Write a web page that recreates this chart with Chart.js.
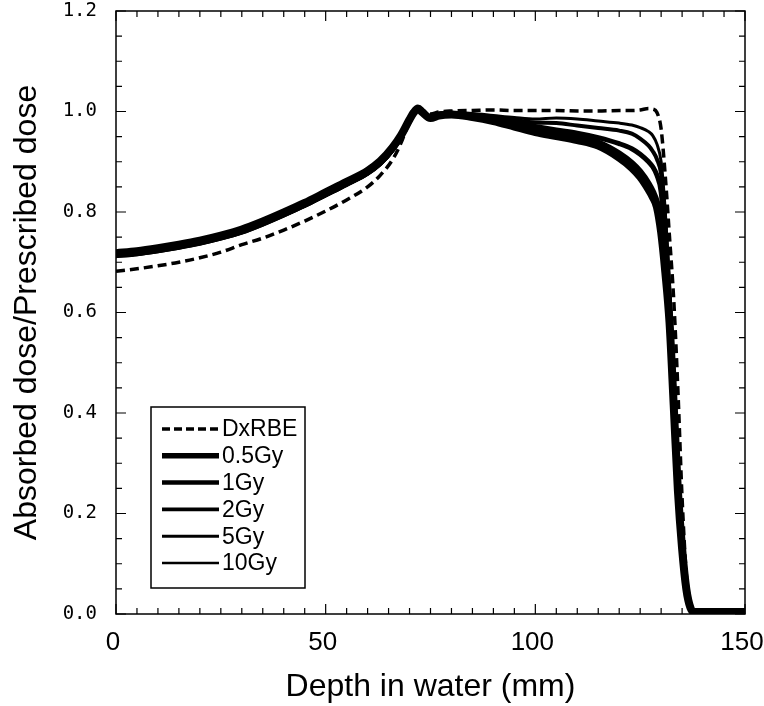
<!DOCTYPE html>
<html>
<head>
<meta charset="utf-8">
<script src="https://cdn.jsdelivr.net/npm/chart.js@4"></script>
<style>
  html, body { margin: 0; padding: 0; background: #fff; }
  #wrap { width: 764px; height: 706px; }
</style>
</head>
<body>
<div id="wrap"><canvas id="chart" width="764" height="706"></canvas></div>
<script>
// depth in water (mm)
const depth = [0, 5, 10, 15, 20, 25, 30, 35, 40, 45,
  50, 55, 60, 63, 66, 68, 70, 71, 72, 73,
  75, 77, 80, 85, 90, 95, 100, 105, 110, 115,
  120, 123, 125, 127, 128, 129, 130, 131, 132, 133,
  134, 135, 136, 137, 138, 140, 145, 150];

const seriesLabels = ["DxRBE", "0.5Gy", "1Gy", "2Gy", "5Gy", "10Gy"];

const doseRBE = [0.682, 0.687, 0.693, 0.700, 0.709, 0.720, 0.735, 0.748, 0.764, 0.782,
  0.802, 0.824, 0.850, 0.873, 0.905, 0.938, 0.982, 1.000, 1.009, 1.002,
  0.995, 0.999, 1.001, 1.002, 1.003, 1.002, 1.002, 1.002, 1.001, 1.001,
  1.002, 1.002, 1.003, 1.006, 1.005, 0.998, 0.965, 0.870, 0.750, 0.626,
  0.445, 0.230, 0.080, 0.015, 0.004, 0.004, 0.004, 0.004];

const dose05 = [0.718, 0.722, 0.728, 0.735, 0.743, 0.753, 0.765, 0.781, 0.799, 0.818,
  0.839, 0.860, 0.882, 0.901, 0.929, 0.953, 0.984, 0.998, 1.006, 0.999,
  0.987, 0.992, 0.994, 0.989, 0.981, 0.970, 0.959, 0.951, 0.943, 0.932,
  0.908, 0.888, 0.870, 0.845, 0.830, 0.810, 0.760, 0.680, 0.580, 0.415,
  0.245, 0.130, 0.050, 0.012, 0.004, 0.004, 0.004, 0.004];

const dose1 = [0.716, 0.720, 0.726, 0.733, 0.741, 0.751, 0.763, 0.779, 0.797, 0.816,
  0.837, 0.858, 0.880, 0.899, 0.927, 0.952, 0.983, 0.998, 1.006, 0.999,
  0.988, 0.993, 0.995, 0.990, 0.983, 0.973, 0.963, 0.956, 0.949, 0.938,
  0.916, 0.897, 0.880, 0.856, 0.840, 0.818, 0.768, 0.688, 0.585, 0.420,
  0.248, 0.132, 0.051, 0.012, 0.004, 0.004, 0.004, 0.004];

const dose2 = [0.714, 0.718, 0.724, 0.731, 0.739, 0.749, 0.761, 0.777, 0.795, 0.814,
  0.835, 0.856, 0.878, 0.897, 0.925, 0.951, 0.982, 0.998, 1.006, 0.999,
  0.989, 0.994, 0.996, 0.992, 0.986, 0.978, 0.970, 0.963, 0.957, 0.948,
  0.936, 0.926, 0.915, 0.900, 0.890, 0.873, 0.840, 0.740, 0.615, 0.440,
  0.255, 0.135, 0.052, 0.012, 0.004, 0.004, 0.004, 0.004];

const dose5 = [0.712, 0.716, 0.722, 0.729, 0.737, 0.747, 0.759, 0.775, 0.793, 0.812,
  0.833, 0.854, 0.876, 0.895, 0.923, 0.950, 0.981, 0.997, 1.006, 0.999,
  0.990, 0.995, 0.997, 0.994, 0.989, 0.983, 0.978, 0.977, 0.972, 0.967,
  0.962, 0.956, 0.946, 0.932, 0.921, 0.905, 0.875, 0.780, 0.640, 0.455,
  0.262, 0.138, 0.053, 0.012, 0.004, 0.004, 0.004, 0.004];

const dose10 = [0.711, 0.715, 0.721, 0.728, 0.736, 0.746, 0.758, 0.774, 0.792, 0.811,
  0.832, 0.853, 0.875, 0.894, 0.922, 0.949, 0.981, 0.997, 1.006, 0.999,
  0.991, 0.996, 0.998, 0.996, 0.992, 0.988, 0.985, 0.987, 0.985, 0.981,
  0.977, 0.973, 0.968, 0.960, 0.952, 0.935, 0.900, 0.800, 0.655, 0.465,
  0.268, 0.140, 0.054, 0.012, 0.004, 0.004, 0.004, 0.004];

const xTicks = [0, 50, 100, 150];
const yTicks = [0.0, 0.2, 0.4, 0.6, 0.8, 1.0, 1.2];

const allSeries = [doseRBE, dose05, dose1, dose2, dose5, dose10];
const widths = [3.5, 8, 6.5, 5, 4, 3];
const legendWidths = [3.5, 5.5, 4.5, 3.6, 3, 2.4];

function toPoints(values) {
  return depth.map((d, i) => ({ x: d, y: values[i] }));
}

// ticks pointing inward on all four sides + frame
const frameTicks = {
  id: "frameTicks",
  afterDraw(chart) {
    const ctx = chart.ctx;
    const area = chart.chartArea;
    const xs = chart.scales.x;
    const ys = chart.scales.y;
    ctx.save();
    ctx.strokeStyle = "#000";
    ctx.lineWidth = 1.5;
    ctx.strokeRect(area.left, area.top, area.right - area.left, area.bottom - area.top);
    ctx.lineWidth = 1.2;
    ctx.beginPath();
    for (let v = 0; v <= 150; v += 5) {
      const px = xs.getPixelForValue(v);
      const len = v % 50 === 0 ? 10 : 6;
      ctx.moveTo(px, area.bottom);
      ctx.lineTo(px, area.bottom - len);
      ctx.moveTo(px, area.top);
      ctx.lineTo(px, area.top + len);
    }
    for (let k = 0; k <= 24; k++) {
      const py = ys.getPixelForValue(k * 0.05);
      const len = k % 4 === 0 ? 10 : 6;
      ctx.moveTo(area.left, py);
      ctx.lineTo(area.left + len, py);
      ctx.moveTo(area.right, py);
      ctx.lineTo(area.right - len, py);
    }
    ctx.stroke();
    ctx.restore();
  }
};

// boxed legend inside the plot
const boxLegend = {
  id: "boxLegend",
  afterDraw(chart) {
    const ctx = chart.ctx;
    ctx.save();
    ctx.strokeStyle = "#000";
    ctx.lineWidth = 1.5;
    ctx.strokeRect(151, 407, 154, 181);
    ctx.font = "23px 'Liberation Sans Narrow', 'Liberation Sans', sans-serif";
    ctx.fillStyle = "#000";
    ctx.textBaseline = "middle";
    seriesLabels.forEach((label, i) => {
      const y = 429 + i * 26.8;
      ctx.beginPath();
      ctx.lineWidth = legendWidths[i];
      ctx.setLineDash(i === 0 ? [8, 4] : []);
      ctx.moveTo(162, y);
      ctx.lineTo(219, y);
      ctx.stroke();
      ctx.setLineDash([]);
      ctx.fillText(label, 222, y + 1);
    });
    ctx.restore();
  }
};

window.addEventListener("load", () => {
  new Chart(document.querySelector("#chart"), {
    type: "line",
    data: {
      datasets: allSeries.map((vals, i) => ({
        label: seriesLabels[i],
        data: toPoints(vals),
        borderColor: "#000",
        borderWidth: widths[i],
        borderDash: i === 0 ? [9, 5] : [],
        pointRadius: 0,
        cubicInterpolationMode: "monotone",
        fill: false,
        order: i === 0 ? 0 : 7 - i
      }))
    },
    options: {
      responsive: false,
      animation: false,
      layout: { padding: { top: 11, right: 19, left: 0, bottom: 0 } },
      plugins: { legend: { display: false }, tooltip: { enabled: false } },
      scales: {
        x: {
          type: "linear",
          min: 0,
          max: 150,
          afterFit(scale) {
            scale.height = 92;
            scale.paddingLeft = 0;
            scale.paddingRight = 0;
          },
          afterBuildTicks(scale) { scale.ticks = xTicks.map(v => ({ value: v })); },
          grid: { display: false },
          border: { display: false },
          ticks: {
            padding: 5,
            labelOffset: -3,
            color: "#000",
            font: { family: "'Liberation Sans Narrow', 'Liberation Sans', sans-serif", size: 26 },
            callback: (v) => String(v)
          },
          title: {
            display: true,
            text: "Depth in water (mm)",
            color: "#000",
            font: { family: "'Liberation Sans', Arial, sans-serif", size: 32 },
            padding: { top: 4, bottom: 0 }
          }
        },
        y: {
          min: 0,
          max: 1.2,
          afterFit(scale) {
            scale.width = 116;
            scale.paddingTop = 0;
            scale.paddingBottom = 0;
          },
          afterBuildTicks(scale) { scale.ticks = yTicks.map(v => ({ value: v })); },
          grid: { display: false },
          border: { display: false },
          ticks: {
            padding: 11,
            color: "#000",
            font: { family: "'DejaVu Sans Mono', monospace", size: 19 },
            callback: (v) => Number(v).toFixed(1)
          },
          title: {
            display: true,
            text: "Absorbed dose/Prescribed dose",
            color: "#000",
            font: { family: "'Liberation Sans', Arial, sans-serif", size: 32 },
            padding: { top: 8, bottom: 0 }
          }
        }
      }
    },
    plugins: [frameTicks, boxLegend]
  });
});
</script>
</body>
</html>
